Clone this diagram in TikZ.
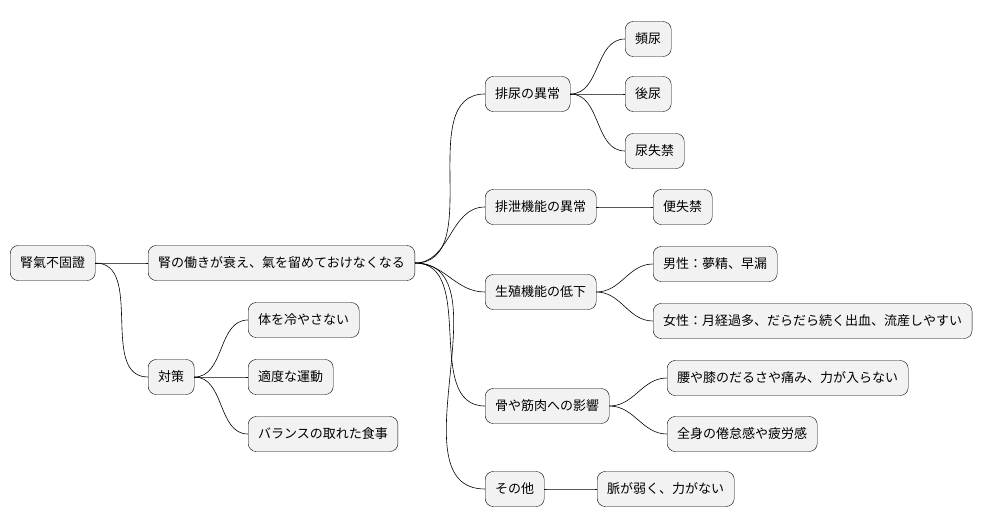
\documentclass[tikz,border=0pt]{standalone}
\usepackage{fontspec}
\newfontfamily\cjk{Noto Sans CJK JP}
\begin{document}
\begin{tikzpicture}[x=1pt,y=-1pt,
    box/.style={draw=black,fill=gray!10,rounded corners=8pt,minimum height=35pt,
                inner xsep=10pt,anchor=west,font=\cjk\fontsize{13pt}{15pt}\selectfont},
    link/.style={draw=black,line width=0.6pt}]
\useasboundingbox (0,0) rectangle (1006,527);
\node[box] (root) at (10,263) {腎氣不固證};
\node[box] (weak) at (148,263) {腎の働きが衰え、氣を留めておけなくなる};
\node[box] (care) at (148,377) {対策};
\node[box] (c1) at (248,320) {体を冷やさない};
\node[box] (c2) at (248,377) {適度な運動};
\node[box] (c3) at (248,434) {バランスの取れた食事};
\node[box] (uri) at (485,94) {排尿の異常};
\node[box] (u1) at (625,39) {頻尿};
\node[box] (u2) at (625,94) {後尿};
\node[box] (u3) at (625,151) {尿失禁};
\node[box] (exc) at (485,207) {排泄機能の異常};
\node[box] (e1) at (653,207) {便失禁};
\node[box] (rep) at (485,292) {生殖機能の低下};
\node[box] (r1) at (653,264) {男性：夢精、早漏};
\node[box] (r2) at (653,321) {女性：月経過多、だらだら続く出血、流産しやすい};
\node[box] (bon) at (485,406) {骨や筋肉への影響};
\node[box] (b1) at (667,378) {腰や膝のだるさや痛み、力が入らない};
\node[box] (b2) at (667,434) {全身の倦怠感や疲労感};
\node[box] (oth) at (485,489) {その他};
\node[box] (o1) at (597,489) {脈が弱く、力がない};
% branches
\foreach \p/\c in {root/weak,root/care,care/c1,care/c2,care/c3,
    weak/uri,weak/exc,weak/rep,weak/bon,weak/oth,
    uri/u1,uri/u2,uri/u3,exc/e1,rep/r1,rep/r2,bon/b1,bon/b2,oth/o1}
  \draw[link] (\p.east) to[out=0,in=180] (\c.west);
\end{tikzpicture}
\end{document}
